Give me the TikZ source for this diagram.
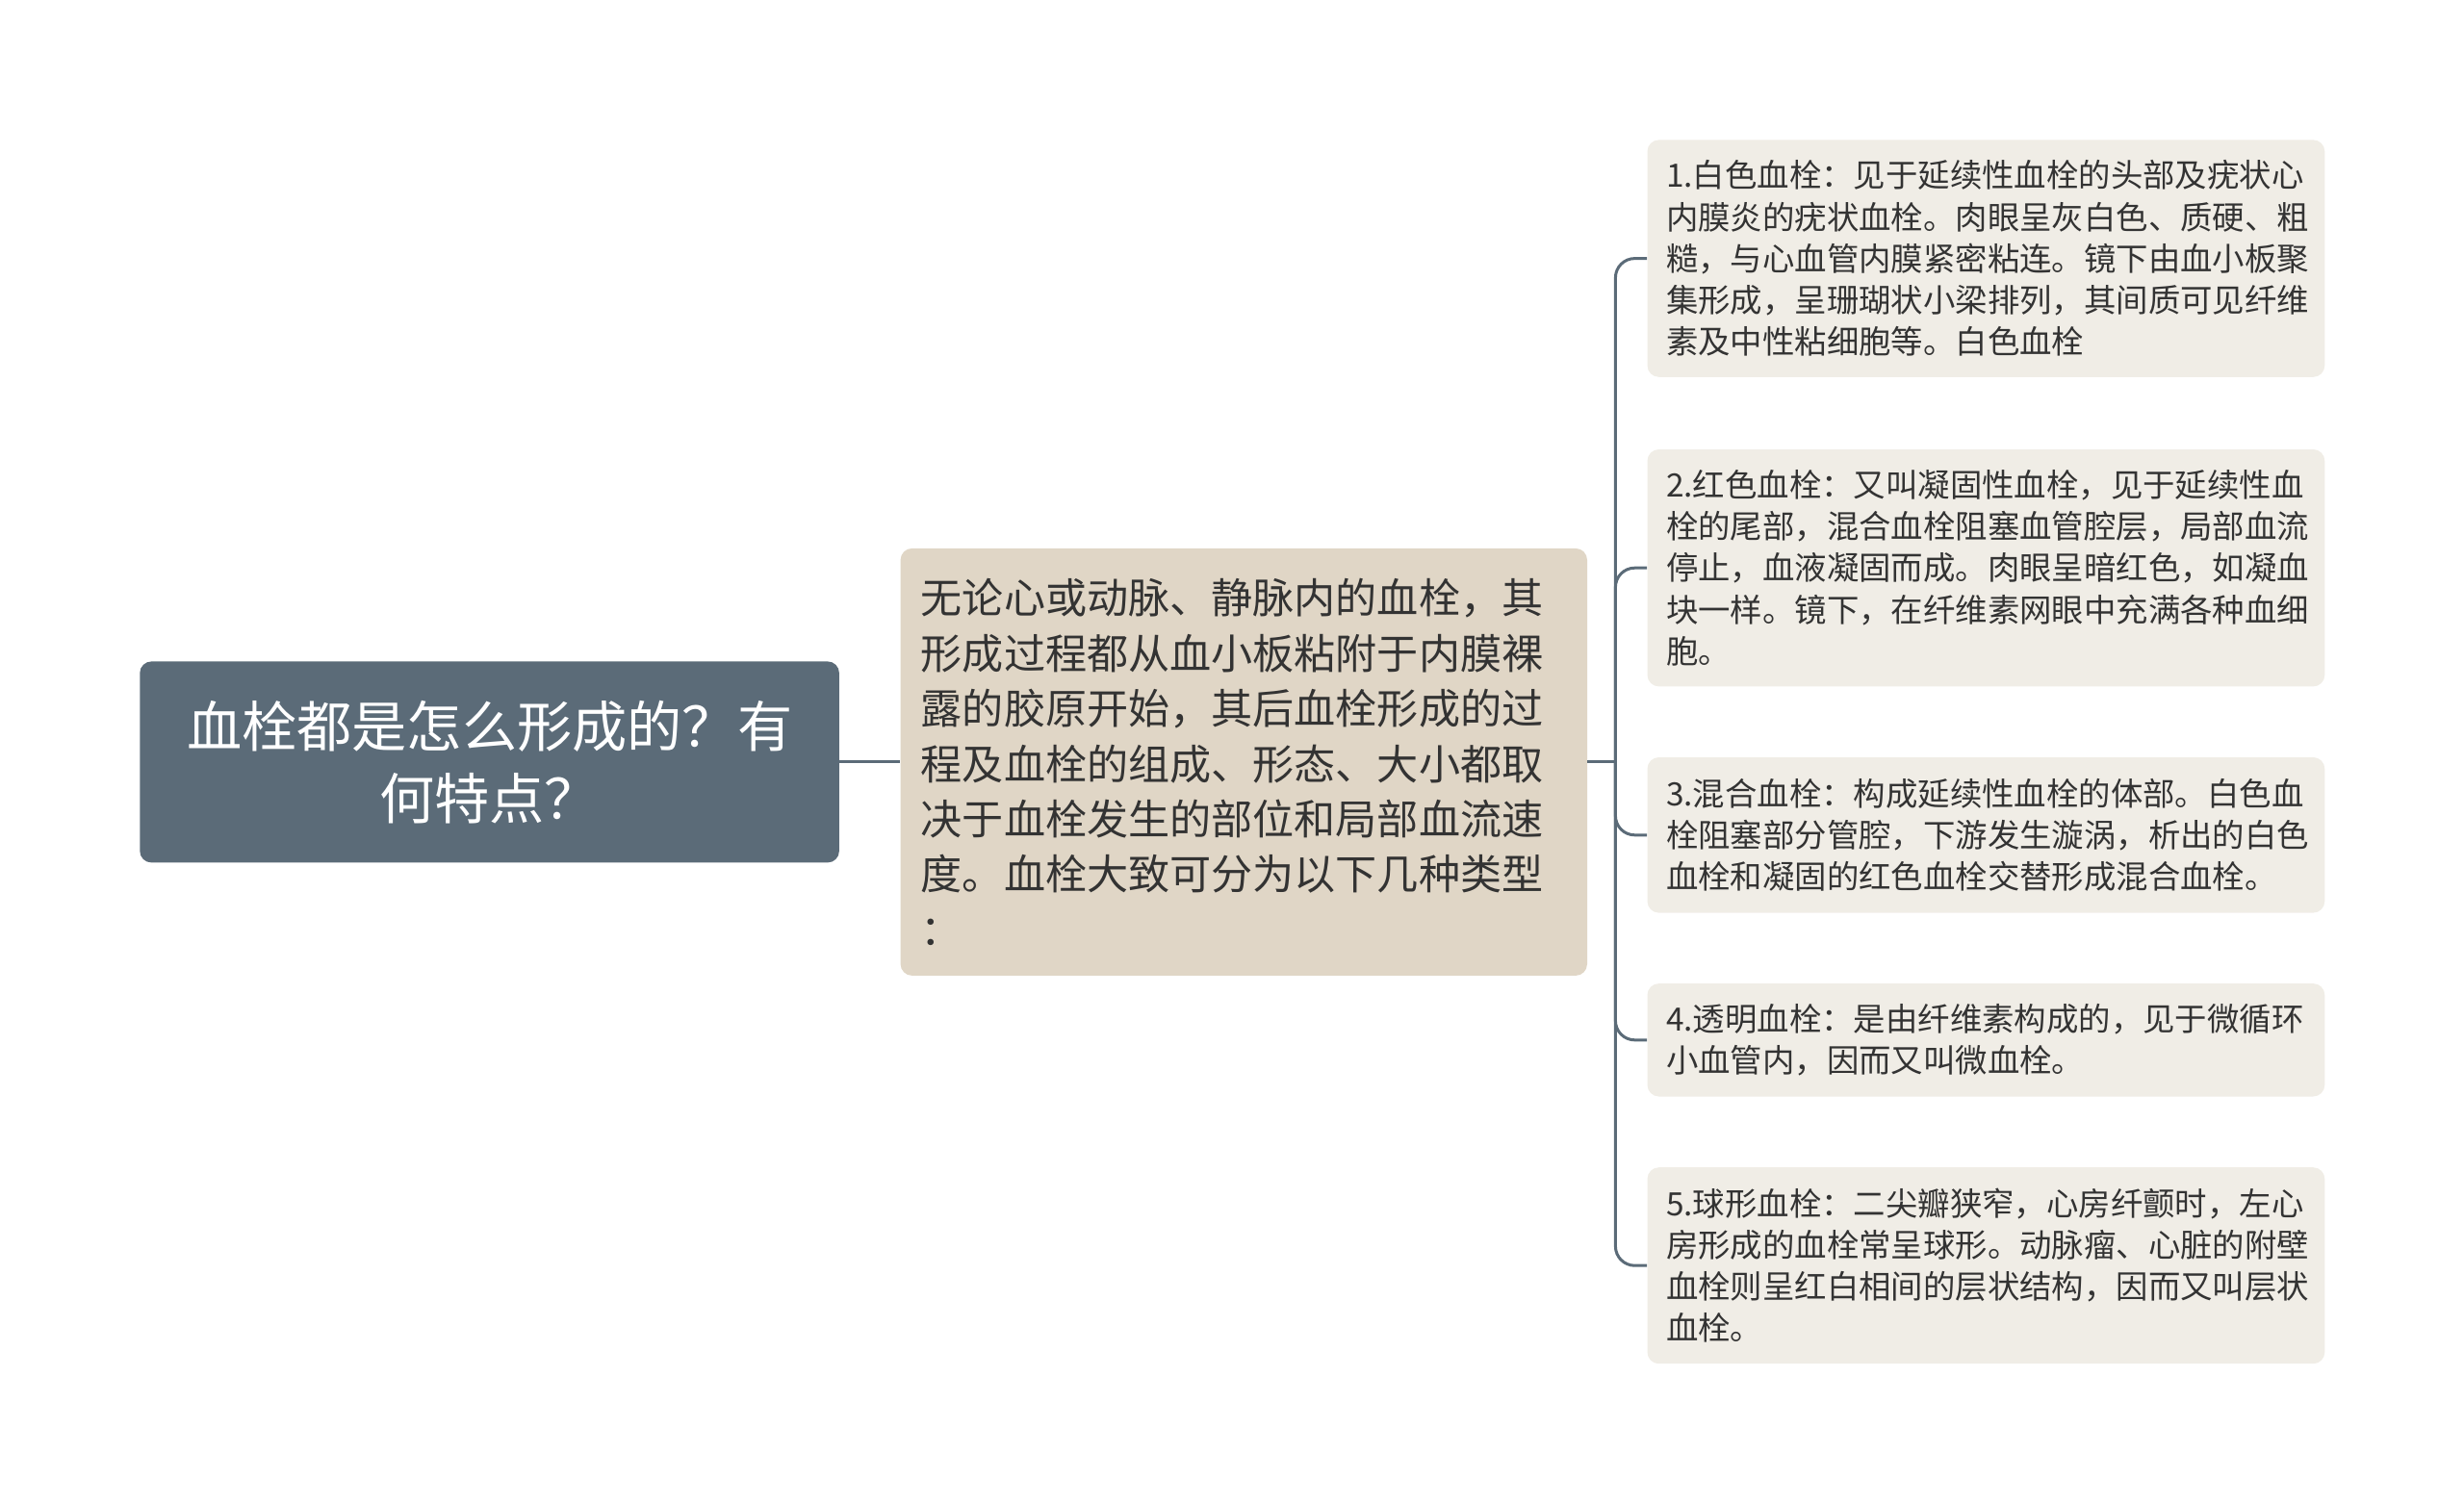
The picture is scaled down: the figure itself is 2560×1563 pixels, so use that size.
\documentclass[tikz,border=0pt]{standalone}
\usepackage{fontspec}
\usepackage{tikz}

\newfontfamily\cjk{Noto Sans CJK SC}
\definecolor{slate}{HTML}{5B6B78}
\definecolor{sand}{HTML}{E0D6C6}
\definecolor{paper}{HTML}{F0EDE6}
\definecolor{ink}{HTML}{333333}

\tikzset{
  rootbox/.style={fill=slate, text=white, rounded corners=6pt, minimum width=363.3pt, minimum height=104.5pt,
    inner xsep=10pt, text width=343pt, align=center, font=\cjk\fontsize{28.6pt}{37.5pt}\selectfont},
  midbox/.style={fill=sand, text=ink, rounded corners=6pt, minimum width=356.7pt, minimum height=222pt,
    inner xsep=10.6pt, text width=335.5pt, align=left, font=\cjk\fontsize{21.55pt}{28.7pt}\selectfont},
  leafbox/.style={fill=paper, text=ink, rounded corners=6pt, minimum width=351.9pt, anchor=west,
    inner xsep=9.8pt, text width=332.3pt, align=left, font=\cjk\fontsize{16.7pt}{21.6pt}\selectfont},
  link/.style={draw=slate, line width=1.5pt, rounded corners=10pt},
}

\begin{document}
\begin{tikzpicture}[x=0.5pt, y=-0.5pt]
    \useasboundingbox (0,0) rectangle (2560,1563);

    % Main topic and summary
    \node[rootbox] (root) at (508.6, 791.9) {血栓都是怎么形成的？有\\何特点？};
    \node[midbox] (mid) at (1292.3, 791.9) {无论心或动脉、静脉内的血栓，其\\形成过程都从血小板粘附于内膜裸\\露的胶原开始，其后血栓形成的过\\程及血栓的组成、形态、大小都取\\决于血栓发生的部位和局部血流速\\度。血栓大致可分为以下几种类型\\：};

    % Types
    \node[leafbox, minimum height=123.2pt] (leaf1) at (1711.1, 268.6) {1.白色血栓：见于延续性血栓的头部及疣状心\\内膜炎的疣状血栓。肉眼呈灰白色、质硬、粗\\糙，与心血管内膜紧密粘连。镜下由血小板聚\\集形成，呈珊瑚状小梁排列，其间质可见纤维\\素及中性粘细胞等。白色血栓};
    \node[leafbox, minimum height=123.2pt] (leaf2) at (1711.1, 590.2) {2.红色血栓：又叫凝固性血栓，见于延续性血\\栓的尾部，混合血栓阻塞血管腔层，局部血流\\停止，血液凝固而成。肉眼呈暗红色，如凝血\\块一样。镜下，在纤维素网眼中充满各种血细\\胞。};
    \node[leafbox, minimum height=80.8pt] (leaf3) at (1711.1, 867.8) {3.混合血栓：构成延续性血栓的体部。白色血\\栓阻塞部分管腔，下游发生漩涡，析出的白色\\血栓和凝固的红色血栓交替形成混合血栓。};
    \node[leafbox, minimum height=58.7pt] (leaf4) at (1711.1, 1080.8) {4.透明血栓：是由纤维素构成的，见于微循环\\小血管内，因而又叫微血栓。};
    \node[leafbox, minimum height=102pt] (leaf5) at (1711.1, 1315.2) {5.球形血栓：二尖瓣狭窄，心房纤颤时，左心\\房形成的血栓常呈球形。动脉瘤、心脏的附壁\\血栓则呈红白相间的层状结构，因而又叫层状\\血栓。};

    % Connectors
    \coordinate (fork) at (1678.4, 791.9);
    \draw[link] (root.east) -- (mid.west);
    \draw[link] (mid.east) -- (fork);
    \foreach \n in {1,...,5}
        \draw[link] (fork) |- (leaf\n.west);
\end{tikzpicture}
\end{document}
